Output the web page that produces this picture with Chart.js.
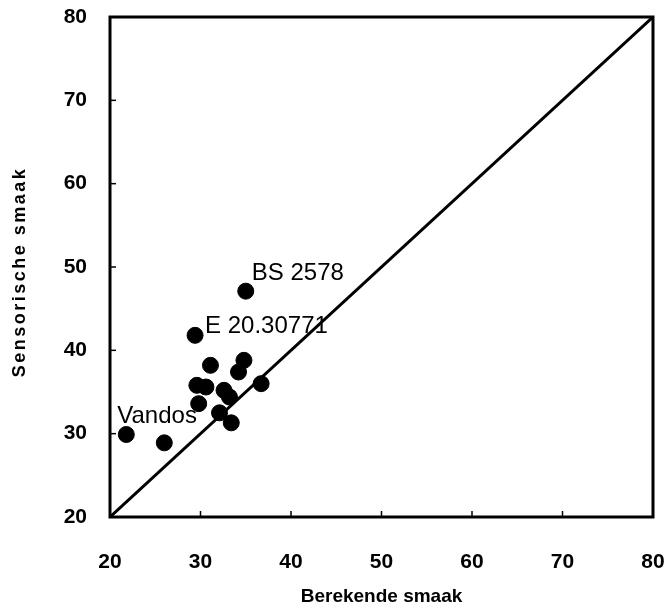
<!DOCTYPE html>
<html>
<head>
<meta charset="utf-8">
<script src="https://cdn.jsdelivr.net/npm/chart.js@4.4.0/dist/chart.umd.min.js"></script>
<style>
  html, body { margin: 0; padding: 0; background: #fff; }
  #wrap { width: 670px; height: 612px; }
</style>
</head>
<body>
<div id="wrap"><canvas id="chart" width="670" height="612"></canvas></div>
<script>
// data
const berekend = [35.0, 29.4, 31.1, 34.8, 34.2, 36.7, 29.6, 30.6, 32.6, 33.2, 29.8, 32.1, 33.4, 21.8, 26.0];
const sensorisch = [47.1, 41.8, 38.2, 38.8, 37.4, 36.0, 35.8, 35.6, 35.2, 34.4, 33.6, 32.5, 31.3, 29.9, 28.9];
const names = ['BS 2578', 'E 20.30771', '', '', '', '', '', '', '', '', '', '', '', 'Vandos', ''];
const lijn = [20, 80];
const ticks = [20, 30, 40, 50, 60, 70, 80];
const yTitle = 'Sensorische smaak';

const font = "'Liberation Sans', Arial, sans-serif";

const points = berekend.map((x, i) => ({ x: x, y: sensorisch[i] }));
const diagonal = lijn.map(v => ({ x: v, y: v }));

// labels next to named points, inward ticks, frame and the y title
const extras = {
  id: 'extras',
  afterDatasetsDraw(chart) {
    const ctx = chart.ctx;
    const xs = chart.scales.x, ys = chart.scales.y;
    const a = chart.chartArea;
    ctx.save();
    ctx.strokeStyle = '#000';
    ctx.lineWidth = 1.5;
    ticks.forEach(t => {
      const px = xs.getPixelForValue(t);
      ctx.beginPath(); ctx.moveTo(px, a.bottom); ctx.lineTo(px, a.bottom - 6); ctx.stroke();
      const py = ys.getPixelForValue(t);
      ctx.beginPath(); ctx.moveTo(a.left, py); ctx.lineTo(a.left + 6, py); ctx.stroke();
    });
    ctx.lineWidth = 3;
    ctx.strokeRect(a.left, a.top, a.right - a.left, a.bottom - a.top);
    ctx.fillStyle = '#000';
    ctx.font = '24px ' + font;
    ctx.textBaseline = 'middle';
    names.forEach((n, i) => {
      if (!n) return;
      const px = xs.getPixelForValue(berekend[i]);
      const py = ys.getPixelForValue(sensorisch[i]);
      if (n === 'Vandos') {
        ctx.fillText(n, px - 9, py - 18);
      } else if (n === 'BS 2578') {
        ctx.fillText(n, px + 6, py - 18);
      } else {
        ctx.fillText(n, px + 10, py - 9);
      }
    });
    // y title, a bit spaced out like the original
    ctx.translate(20, (a.top + a.bottom) / 2 + 5);
    ctx.rotate(-Math.PI / 2);
    ctx.font = 'bold 18px ' + font;
    ctx.letterSpacing = '2.5px';
    ctx.textAlign = 'center';
    ctx.fillText(yTitle, 0, 0);
    ctx.restore();
  }
};

new Chart(document.getElementById('chart'), {
  type: 'scatter',
  data: {
    datasets: [
      {
        data: diagonal,
        showLine: true,
        borderColor: '#000',
        borderWidth: 3,
        pointRadius: 0,
        order: 2
      },
      {
        data: points,
        backgroundColor: '#000',
        borderColor: '#000',
        borderWidth: 1,
        pointRadius: 8,
        order: 1
      }
    ]
  },
  options: {
    responsive: false,
    animation: false,
    layout: { padding: { top: 17, right: 17, left: 0, bottom: 0 } },
    plugins: { legend: { display: false }, tooltip: { enabled: false } },
    scales: {
      x: {
        type: 'linear',
        min: 20, max: 80,
        afterBuildTicks: s => { s.ticks = ticks.map(v => ({ value: v })); },
        afterFit: s => { s.height = 95; s.paddingLeft = 0; s.paddingRight = 0; },
        grid: { display: false, drawTicks: false },
        border: { display: false },
        ticks: { padding: 33, color: '#000', font: { family: font, size: 21, weight: 'bold' } },
        title: {
          display: true, text: 'Berekende smaak', color: '#000',
          font: { family: font, size: 19, weight: 'bold' }, padding: { top: 0, bottom: 4 }
        }
      },
      y: {
        type: 'linear',
        min: 20, max: 80,
        afterBuildTicks: s => { s.ticks = ticks.map(v => ({ value: v })); },
        afterFit: s => { s.width = 110; s.paddingTop = 0; s.paddingBottom = 0; },
        grid: { display: false, drawTicks: false },
        border: { display: false },
        ticks: { padding: 23, color: '#000', font: { family: font, size: 21, weight: 'bold' } }
      }
    }
  },
  plugins: [extras]
});
</script>
</body>
</html>
